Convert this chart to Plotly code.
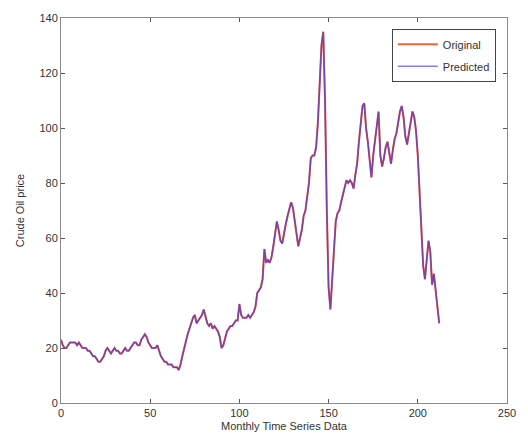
import plotly.graph_objects as go

months = list(range(213))
original = [
    23, 21, 20, 20, 21, 22, 22, 22, 22, 21,
    22, 21, 20, 20, 20, 19, 19, 18, 17, 17,
    16, 15, 15, 16, 17, 19, 20, 19, 18, 19,
    20, 19, 19, 18, 18, 19, 20, 19, 19, 20,
    21, 22, 22, 21, 21, 23, 24, 25, 24, 22,
    21, 20, 20, 20, 21, 19, 17, 16, 15, 15,
    14, 14, 14, 13, 13, 13, 12, 14, 17, 20,
    23, 25, 27, 29, 31, 32, 29, 30, 31, 32,
    34, 31, 29, 28, 29, 27, 28, 27, 26, 24,
    20, 21, 24, 26, 27, 28, 28, 29, 30, 30,
    36, 32, 31, 31, 31, 32, 31, 32, 33, 35,
    40, 41, 42, 45, 56, 51, 52, 51, 53, 57,
    62, 66, 63, 59, 58, 62, 65, 68, 71, 73,
    71, 66, 61, 57, 60, 63, 68, 70, 75, 80,
    89, 90, 90, 93, 102, 117, 130, 135, 110, 70,
    42, 34, 44, 58, 66, 69, 70, 73, 76, 79,
    81, 80, 81, 80, 78, 83, 87, 95, 102, 108,
    109, 100, 95, 88, 82, 90, 95, 100, 106, 90,
    86, 89, 93, 95, 90, 87, 92, 96, 98, 102,
    106, 108, 104, 97, 94, 98, 103, 106, 104, 99,
    90, 78, 64, 50, 45, 52, 59, 55, 43, 47,
    40, 35, 29,
]
predicted = list(original)

x_ticks = [0, 50, 100, 150, 200, 250]
y_ticks = [0, 20, 40, 60, 80, 100, 120, 140]

FONT = "Liberation Sans, Arial"

fig = go.Figure()
fig.add_trace(go.Scatter(x=months, y=original, mode="lines", name="Original",
                         legendgroup="a",
                         line=dict(color="#f0643c", width=2)))
fig.add_trace(go.Scatter(x=months, y=predicted, mode="lines", name="Predicted",
                         legendgroup="b",
                         line=dict(color="#3a30e0", width=1.6), opacity=0.62))

axis_common = dict(showline=True, linecolor="#8a8a8a", linewidth=1, mirror="ticks",
                   ticks="inside", ticklen=4, tickcolor="#555", showgrid=False,
                   zeroline=False, tickfont=dict(family=FONT, size=11, color="#333"))

fig.update_layout(
    width=528, height=445,
    margin=dict(l=61, r=19, t=14, b=42),
    paper_bgcolor="white", plot_bgcolor="white",
    showlegend=True,
    legend=dict(x=0.975, y=0.972, xanchor="right", yanchor="top",
                bordercolor="#444", borderwidth=1, bgcolor="white",
                font=dict(family=FONT, size=11, color="#333"),
                itemwidth=40, traceorder="grouped", tracegroupgap=3),
    xaxis=dict(range=[0, 250], tickvals=x_ticks,
               title=dict(text="Monthly Time Series Data", standoff=4,
                          font=dict(family=FONT, size=11, color="#333")),
               **axis_common),
    yaxis=dict(range=[0, 140], tickvals=y_ticks,
               title=dict(text="Crude Oil price", standoff=12,
                          font=dict(family=FONT, size=11, color="#333")),
               **axis_common),
)

fig.write_html("out.html")
